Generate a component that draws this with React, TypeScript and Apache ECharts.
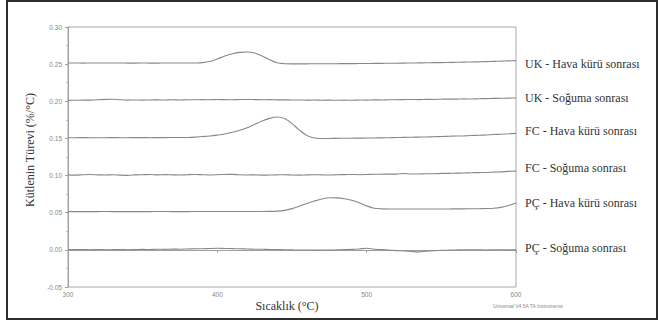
import React, { useEffect, useRef } from "react";
import * as echarts from "echarts";

const temps = [300,305,310,315,320,325,330,335,340,345,350,355,360,365,370,375,380,385,390,395,400,405,410,415,420,425,430,435,440,445,450,455,460,465,470,475,480,485,490,495,500,505,510,515,520,525,530,535,540,545,550,555,560,565,570,575,580,585,590,595,600];

const ukHava = [
  0.2515,0.2515,0.2514,0.2515,0.2516,0.2515,0.2516,0.2515,0.2514,0.2514,0.2515,0.2514,0.2514,0.2515,0.2515,0.2515,0.2515,0.2516,
  0.2520,0.2535,0.2570,0.2610,0.2640,0.2658,0.2663,0.2650,0.2610,0.2560,0.2518,0.2506,0.2504,
  0.2504,0.2504,0.2505,0.2505,0.2506,0.2506,0.2507,0.2507,0.2508,0.2509,0.2510,0.2511,0.2512,0.2513,0.2514,0.2515,0.2517,0.2518,0.2520,0.2521,0.2523,0.2525,0.2527,0.2529,0.2531,0.2534,0.2537,0.2540,0.2544,0.2548,
];

const ukSoguma = [
  0.2012,0.2014,0.2015,0.2016,0.2020,0.2026,0.2028,0.2020,0.2016,0.2018,0.2015,0.2018,0.2019,0.2017,0.2020,0.2018,0.2021,0.2020,
  0.2022,0.2021,0.2024,0.2022,0.2021,0.2024,0.2025,0.2023,0.2021,0.2022,0.2019,0.2020,0.2017,
  0.2018,0.2015,0.2017,0.2014,0.2016,0.2013,0.2015,0.2014,0.2017,0.2016,0.2019,0.2018,0.2021,0.2020,0.2023,0.2025,0.2022,0.2026,0.2025,0.2028,0.2030,0.2029,0.2033,0.2030,0.2035,0.2036,0.2039,0.2040,0.2043,0.2044,
];

const fcHava = [
  0.1510,0.1510,0.1511,0.1510,0.1509,0.1510,0.1511,0.1510,0.1510,0.1511,0.1511,0.1510,0.1511,0.1511,0.1512,0.1512,
  0.1513,0.1517,0.1525,0.1533,0.1545,0.1560,0.1583,0.1610,0.1645,0.1690,0.1735,0.1770,0.1788,0.1768,0.1700,0.1612,0.1540,0.1506,0.1500,
  0.1500,0.1501,0.1502,0.1503,0.1504,0.1505,0.1506,0.1508,0.1510,0.1512,0.1514,0.1516,0.1518,0.1520,0.1523,0.1526,0.1529,0.1532,0.1535,0.1539,0.1543,0.1547,0.1552,0.1557,0.1562,0.1568,
];

const fcSoguma = [
  0.1010,0.1006,0.1011,0.1014,0.1010,0.1007,0.1011,0.1006,0.1003,0.1010,0.1012,0.1014,0.1009,0.1013,0.1010,0.1007,0.1012,0.1015,
  0.1012,0.1008,0.1012,0.1015,0.1016,0.1011,0.1008,0.1010,0.1006,0.1007,0.1010,0.1012,0.1008,
  0.1006,0.1010,0.1012,0.1009,0.1007,0.1012,0.1013,0.1015,0.1012,0.1014,0.1017,0.1018,0.1020,0.1019,0.1028,0.1021,0.1022,0.1025,0.1024,0.1029,0.1030,0.1033,0.1034,0.1038,0.1040,0.1042,0.1047,0.1050,0.1056,0.1060,
];

const pcHava = [
  0.0515,0.0515,0.0514,0.0515,0.0515,0.0516,0.0515,0.0515,0.0514,0.0515,0.0515,0.0515,0.0516,0.0516,0.0515,0.0515,0.0515,0.0516,0.0516,0.0516,0.0516,0.0516,0.0516,0.0516,0.0517,0.0517,0.0517,
  0.0518,0.0522,0.0532,0.0555,0.0588,0.0625,0.0657,0.0685,0.0702,0.0700,0.0688,0.0668,0.0635,0.0592,0.0560,
  0.0552,0.0550,0.0550,0.0549,0.0549,0.0550,0.0550,0.0550,0.0551,0.0551,0.0552,0.0552,0.0553,0.0554,0.0556,0.0560,0.0572,0.0596,0.0630,
];

const pcSoguma = [
  0.0005,0.0003,0.0004,0.0002,0.0004,0.0001,0.0003,0.0005,0.0002,0.0004,0.0006,0.0005,0.0008,0.0007,0.0010,0.0009,0.0012,0.0014,
  0.0015,0.0019,0.0021,0.0018,0.0017,0.0014,0.0012,0.0009,0.0008,0.0005,0.0004,0.0001,0.0000,
  -0.0003,-0.0002,-0.0004,-0.0002,-0.0004,0.0000,0.0003,0.0006,0.0012,0.0022,0.0008,0.0003,-0.0004,-0.0010,-0.0015,-0.0022,-0.0027,-0.0017,-0.0010,-0.0005,-0.0004,-0.0001,0.0001,0.0000,0.0002,-0.0001,0.0001,0.0002,0.0000,0.0001,
];

const seriesNames = [
  "UK - Hava kürü sonrası",
  "UK - Soğuma sonrası",
  "FC - Hava kürü sonrası",
  "FC - Soğuma sonrası",
  "PÇ - Hava kürü sonrası",
  "PÇ - Soğuma sonrası",
];
const seriesValues = [ukHava, ukSoguma, fcHava, fcSoguma, pcHava, pcSoguma];
const labelOffsets = [3, 0, -2, -3, 0, -2];

const yTicks = { min: -0.05, max: 0.3, interval: 0.05 };
const xTicks = { min: 300, max: 600, interval: 100 };

const xTitle = "Sıcaklık (°C)";
const yTitle = "Kütlenin Türevi (%/°C)";
const footNote = "Universal V4.5A TA Instruments";

export default function App() {
  const ref = useRef<HTMLDivElement>(null);
  useEffect(() => {
    if (!ref.current) return;
    const chart = echarts.init(ref.current, null, { renderer: "svg" });
    const serif = "'Liberation Serif', 'DejaVu Serif', serif";
    chart.setOption({
      animation: false,
      backgroundColor: "#ffffff",
      grid: {
        left: 68,
        right: 142,
        top: 27,
        bottom: 35,
        show: true,
        borderColor: "#a8a8a8",
        borderWidth: 1,
        backgroundColor: "transparent",
      },
      xAxis: {
        type: "value",
        min: xTicks.min,
        max: xTicks.max,
        interval: xTicks.interval,
        axisLine: { show: true, lineStyle: { color: "#a0a0a0", width: 1 } },
        axisTick: { show: true, length: 3, lineStyle: { color: "#a0a0a0" } },
        splitLine: { show: false },
        axisLabel: {
          fontSize: 6.5,
          color: "#888",
          margin: 4,
          fontFamily: "'Liberation Sans', Arial, sans-serif",
        },
      },
      yAxis: {
        type: "value",
        min: yTicks.min,
        max: yTicks.max,
        interval: yTicks.interval,
        axisLine: { show: true, lineStyle: { color: "#a0a0a0", width: 1 } },
        axisTick: { show: true, length: 3, lineStyle: { color: "#a0a0a0" } },
        minorTick: { show: true, splitNumber: 2, length: 2, lineStyle: { color: "#c0c0c0" } },
        splitLine: { show: false },
        axisLabel: {
          fontSize: 6.5,
          color: "#888",
          margin: 6,
          fontFamily: "'Liberation Sans', Arial, sans-serif",
          formatter: (v: number) => v.toFixed(2),
        },
      },
      series: seriesNames.map((name, i) => ({
        name,
        type: "line",
        data: temps.map((t, j) => [t, seriesValues[i][j]]),
        showSymbol: false,
        symbol: "none",
        smooth: 0.3,
        lineStyle: { color: "#888888", width: 1.1 },
        endLabel: {
          show: true,
          formatter: "{a}",
          distance: 9,
          offset: [0, labelOffsets[i]],
          fontSize: 12,
          color: "#333",
          fontFamily: serif,
        },
      })),
      graphic: [
        {
          type: "rect",
          shape: { x: 7, y: 1, width: 650, height: 318 },
          style: { fill: "none", stroke: "#2e2e2e", lineWidth: 2 },
          silent: true,
        },
        {
          type: "text",
          x: 287,
          y: 306,
          style: {
            text: xTitle,
            fontSize: 12,
            fontFamily: serif,
            fill: "#333",
            align: "center",
            verticalAlign: "middle",
          },
        },
        {
          type: "text",
          x: 30,
          y: 150,
          rotation: Math.PI / 2,
          style: {
            text: yTitle,
            fontSize: 12,
            fontFamily: serif,
            fill: "#333",
            align: "center",
            verticalAlign: "middle",
          },
        },
        {
          type: "text",
          x: 528,
          y: 306,
          style: {
            text: footNote,
            fontSize: 5,
            fontFamily: "'Liberation Sans', Arial, sans-serif",
            fill: "#888",
            align: "center",
            verticalAlign: "middle",
          },
        },
      ],
    });
    return () => chart.dispose();
  }, []);
  return (
    <div
      ref={ref}
      style={{ position: "fixed", left: 0, top: 0, width: 658, height: 322 }}
    />
  );
}
